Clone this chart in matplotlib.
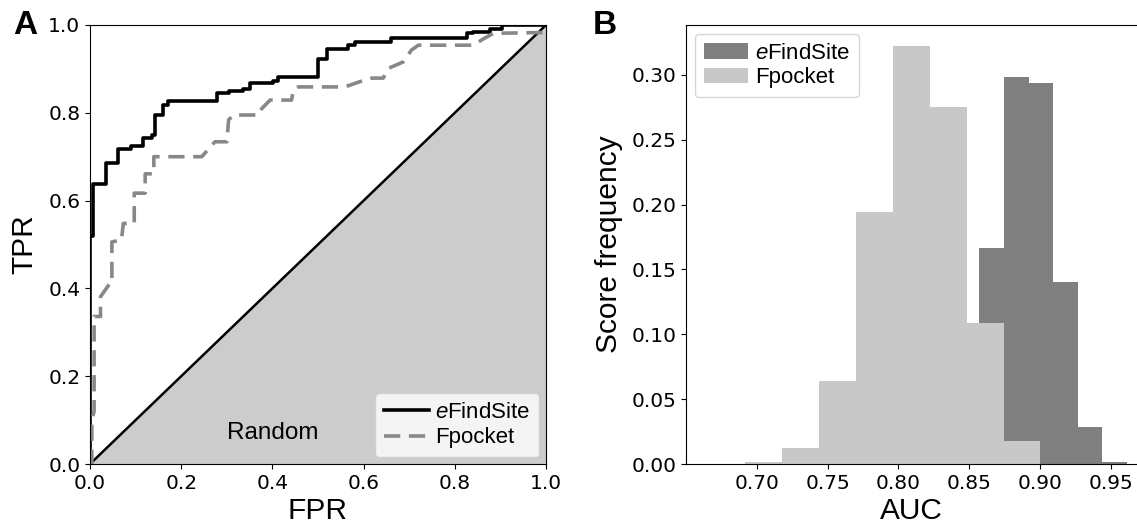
import numpy as np
import matplotlib
matplotlib.use("Agg")
import matplotlib.pyplot as plt

plt.rcParams['mathtext.fontset'] = 'custom'
plt.rcParams['mathtext.rm'] = 'Liberation Sans'
plt.rcParams['mathtext.it'] = 'Liberation Sans:italic'

# ROC curves (FPR, TPR)
efs_fpr = [0, 0, 0.007, 0.035, 0.062, 0.089, 0.117, 0.135, 0.142, 0.161, 0.170, 0.278, 0.305,
           0.336, 0.351, 0.402, 0.413, 0.501, 0.519, 0.566, 0.581, 0.661, 0.826, 0.840, 0.877,
           0.903, 1.0]
efs_tpr = [0, 0.52, 0.638, 0.685, 0.717, 0.724, 0.742, 0.749, 0.795, 0.818, 0.828, 0.844, 0.850,
           0.855, 0.867, 0.873, 0.882, 0.922, 0.945, 0.954, 0.962, 0.970, 0.981, 0.985, 0.992,
           1.0, 1.0]

fp_fpr = [0.0, 0.004, 0.004, 0.009, 0.009, 0.023, 0.023, 0.044, 0.048, 0.048, 0.069, 0.073,
          0.097, 0.097, 0.121, 0.121, 0.140, 0.140, 0.245, 0.252, 0.274, 0.300, 0.304, 0.315,
          0.370, 0.377, 0.395, 0.442, 0.446, 0.457, 0.559, 0.592, 0.618, 0.643, 0.654, 0.687,
          0.705, 0.720, 0.841, 0.859, 0.884, 1.0]
fp_tpr = [0.0, 0.0, 0.100, 0.120, 0.336, 0.336, 0.381, 0.412, 0.412, 0.506, 0.510, 0.548,
          0.548, 0.617, 0.617, 0.661, 0.661, 0.700, 0.700, 0.708, 0.734, 0.734, 0.784, 0.795,
          0.795, 0.810, 0.829, 0.829, 0.852, 0.859, 0.859, 0.871, 0.879, 0.879, 0.901, 0.916,
          0.943, 0.954, 0.954, 0.966, 0.981, 0.983]

# AUC histograms (bin left edges, widths, frequencies)
efs_edges = [0.8570, 0.8746, 0.8918, 0.9093, 0.9264, 0.9439]
efs_width = 0.0174
efs_freq = [0.1667, 0.2985, 0.2938, 0.1402, 0.0282, 0.0012]

fp_edges = [0.6917, 0.7178, 0.7439, 0.7700, 0.7960, 0.8221, 0.8482, 0.8743]
fp_width = 0.0261
fp_freq = [0.0013, 0.0121, 0.0641, 0.194, 0.322, 0.275, 0.109, 0.0179]

W, H = 1137, 528
fig = plt.figure(figsize=(W / 100, H / 100), dpi=100)

lab_font = {'family': 'Liberation Sans', 'size': 21.5}

# ---- panel A
ax1 = fig.add_axes([90 / W, 1 - 464 / H, 456 / W, 439 / H])
ax1.fill_between([0, 1], [0, 1], 0, color='#cccccc', lw=0)
ax1.plot([0, 1], [0, 1], color='black', lw=1.8)
ax1.step(efs_fpr, efs_tpr, where='post', color='black', lw=2.6, label=r'$\it{e}$FindSite')
ax1.plot(fp_fpr, fp_tpr, color='#888888', lw=2.6, dashes=(4.5, 2.4), label='Fpocket')
ax1.text(0.40, 0.07, 'Random', ha='center', va='center', fontsize=17.5, family='Liberation Sans')
ax1.set_xlim(0, 1)
ax1.set_ylim(0, 1)
ax1.set_xticks(np.arange(0, 1.01, 0.2))
ax1.set_yticks(np.arange(0, 1.01, 0.2))
ax1.set_xticklabels(['%.1f' % v for v in np.arange(0, 1.01, 0.2)])
ax1.set_yticklabels(['%.1f' % v for v in np.arange(0, 1.01, 0.2)])
ax1.tick_params(labelsize=14.5)
ax1.set_xlabel('FPR', fontdict=lab_font, labelpad=3)
ax1.set_ylabel('TPR', fontdict=lab_font, labelpad=7)
ax1.legend(loc='lower right', prop={'family': 'Liberation Sans', 'size': 16},
           handlelength=2.0, handletextpad=0.3, borderaxespad=0.3, labelspacing=0.2)

# ---- panel B
ax2 = fig.add_axes([686 / W, 1 - 464 / H, 451 / W, 439 / H])
ax2.bar(efs_edges, efs_freq, width=efs_width, align='edge', color='#808080', lw=0,
        label=r'$\it{e}$FindSite')
ax2.bar(fp_edges, fp_freq, width=fp_width, align='edge', color='#c8c8c8', lw=0,
        label='Fpocket')
ax2.set_xlim(0.650, 0.9686)
ax2.set_ylim(0, 0.3385)
ax2.set_xticks([0.70, 0.75, 0.80, 0.85, 0.90, 0.95])
ax2.set_xticklabels(['0.70', '0.75', '0.80', '0.85', '0.90', '0.95'])
ax2.set_yticks([0.0, 0.05, 0.10, 0.15, 0.20, 0.25, 0.30])
ax2.set_yticklabels(['0.00', '0.05', '0.10', '0.15', '0.20', '0.25', '0.30'])
ax2.tick_params(labelsize=14.5)
ax2.spines['right'].set_visible(False)
ax2.set_xlabel('AUC', fontdict=lab_font, labelpad=3)
ax2.set_ylabel('Score frequency', fontdict=lab_font, labelpad=6)
ax2.legend(loc='upper left', prop={'family': 'Liberation Sans', 'size': 16},
           handlelength=2.0, handletextpad=0.3, borderaxespad=0.4, labelspacing=0.15)

fig.text(13 / W, 1 - 25 / H, 'A', fontsize=24, fontweight='bold', family='Liberation Sans',
         va='center', ha='left')
fig.text(593 / W, 1 - 25 / H, 'B', fontsize=24, fontweight='bold', family='Liberation Sans',
         va='center', ha='left')

fig.savefig('out.png', dpi=100)
